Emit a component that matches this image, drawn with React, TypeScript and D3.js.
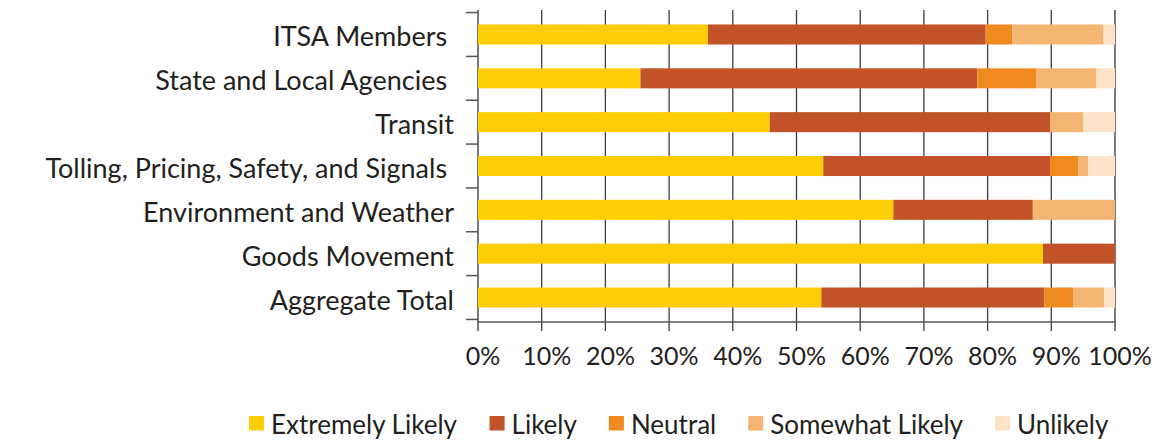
import * as d3 from "d3";
import React from "react";

// categories top to bottom (trailing space keeps the original label offsets)
const categories = [
  "ITSA Members ",
  "State and Local Agencies ",
  "Transit",
  "Tolling, Pricing, Safety, and Signals ",
  "Environment and Weather",
  "Goods Movement",
  "Aggregate Total",
];

const seriesNames = ["Extremely Likely", "Likely", "Neutral", "Somewhat Likely", "Unlikely"];
const seriesColors = ["#FECD06", "#C25227", "#EF8A1E", "#F5B572", "#FCE2C6"];

// percent of responses per category
const extremelyLikely = [36.1, 25.5, 45.8, 54.2, 65.2, 88.7, 53.9];
const likely = [43.6, 52.9, 44.0, 35.6, 21.9, 11.3, 35.0];
const neutral = [4.2, 9.2, 0, 4.4, 0, 0, 4.6];
const somewhatLikely = [14.3, 9.5, 5.2, 1.6, 12.9, 0, 4.8];
const unlikely = [1.8, 2.9, 5.0, 4.2, 0, 0, 1.7];

const xTicks = [0, 10, 20, 30, 40, 50, 60, 70, 80, 90, 100];

const FONT = "Lato, 'Open Sans', sans-serif";
const TEXT = "#231F20";

export default function App() {
  const width = 1173;
  const height = 443;
  const plotTop = 10;
  const plotBottom = 322;

  const x = d3.scaleLinear().domain([0, 100]).range([478, 1115]);
  const y = d3
    .scaleBand()
    .domain(categories)
    .range([plotTop, plotBottom])
    .paddingInner(0.543)
    .paddingOuter(0.33);

  const rows = categories.map((c, i) => ({
    category: c,
    "Extremely Likely": extremelyLikely[i],
    Likely: likely[i],
    Neutral: neutral[i],
    "Somewhat Likely": somewhatLikely[i],
    Unlikely: unlikely[i],
  }));
  const stacked = d3.stack<any>().keys(seriesNames)(rows);

  const gap = y.step() - y.bandwidth();
  const yTicks = categories.map((c) => (y(c) ?? 0) - gap / 2);
  yTicks.push((y(categories[categories.length - 1]) ?? 0) + y.bandwidth() + gap / 2);

  // legend layout from measured text widths
  const legendSize = 26;
  const legend = React.useMemo(() => {
    const ctx = document.createElement("canvas").getContext("2d")!;
    ctx.font = `${legendSize}px Lato`;
    let cx = 249;
    return seriesNames.map((name, i) => {
      const item = { name, color: seriesColors[i], x: cx };
      cx += 22 + ctx.measureText(name).width + 32;
      return item;
    });
  }, []);

  return (
    <svg
      width={width}
      height={height}
      viewBox={`0 0 ${width} ${height}`}
      style={{ position: "absolute", left: 0, top: 0, background: "#fff" }}
    >
      {/* grid lines */}
      {xTicks.map((t) => (
        <line
          key={`g${t}`}
          x1={x(t)}
          x2={x(t)}
          y1={plotTop}
          y2={plotBottom + 9}
          stroke={t === 0 || t === 100 ? "#7a7a7a" : "#3c3c3c"}
          strokeWidth={t === 0 || t === 100 ? 2 : 1.3}
        />
      ))}

      {/* y ticks between categories */}
      {yTicks.map((t, i) => (
        <line key={`yt${i}`} x1={x(0) - 12} x2={x(0)} y1={t} y2={t} stroke="#555" strokeWidth={1.5} />
      ))}

      {/* x axis */}
      <line x1={x(0)} x2={x(100)} y1={plotBottom} y2={plotBottom} stroke="#555" strokeWidth={1.6} />

      {/* bars */}
      {stacked.map((s, si) => (
        <g key={s.key} fill={seriesColors[si]}>
          {s.map((d, di) =>
            d[1] - d[0] > 0 ? (
              <rect
                key={di}
                x={x(d[0])}
                y={y(categories[di])}
                width={x(d[1]) - x(d[0])}
                height={y.bandwidth()}
              />
            ) : null
          )}
        </g>
      ))}

      {/* category labels */}
      {categories.map((c) => (
        <text
          key={c}
          x={454}
          y={(y(c) ?? 0) + y.bandwidth() / 2 + 12}
          textAnchor="end"
          fontFamily={FONT}
          fontSize={27}
          fill={TEXT}
          style={{ whiteSpace: "pre" }}
        >
          {c}
        </text>
      ))}

      {/* x tick labels */}
      {xTicks.map((t) => (
        <text
          key={`l${t}`}
          x={x(t) + 5}
          y={365}
          textAnchor="middle"
          fontFamily={FONT}
          fontSize={25}
          fill={TEXT}
        >
          {`${t}%`}
        </text>
      ))}

      {/* legend */}
      {legend.map((l) => (
        <g key={l.name}>
          <rect x={l.x} y={416} width={15} height={14.5} fill={l.color} />
          <text x={l.x + 22} y={434.3} fontFamily={FONT} fontSize={legendSize} fill={TEXT}>
            {l.name}
          </text>
        </g>
      ))}
    </svg>
  );
}
